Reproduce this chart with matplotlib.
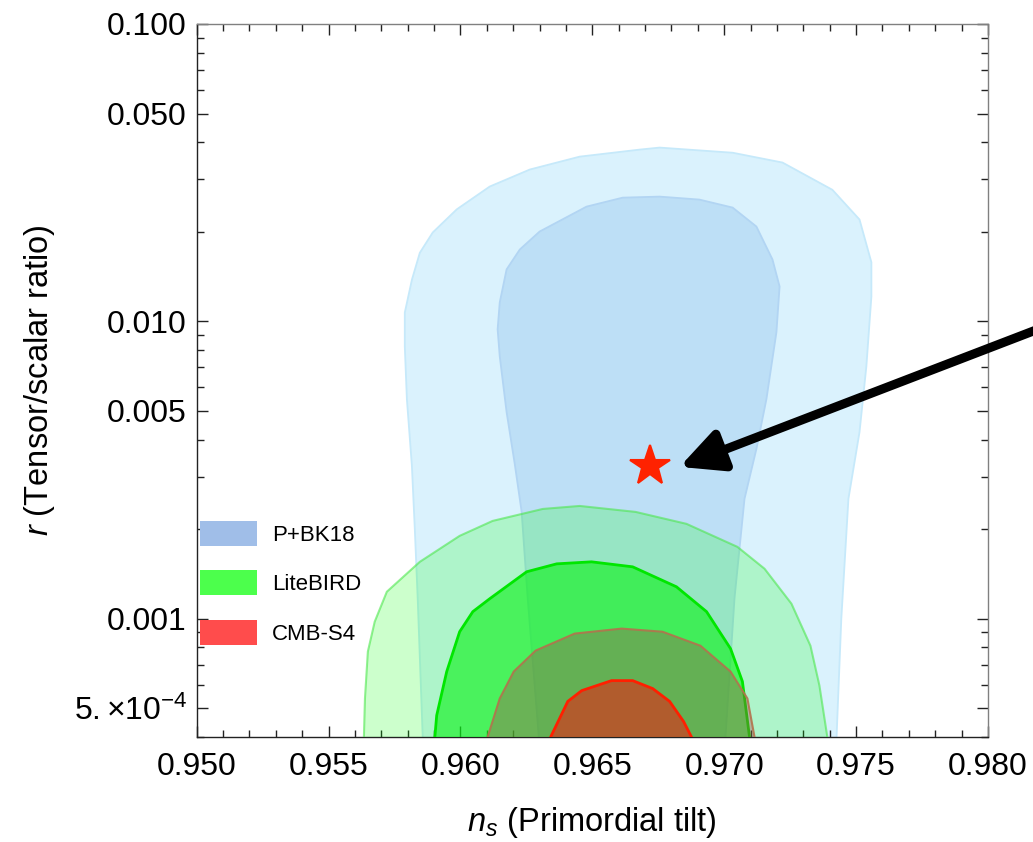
import matplotlib
matplotlib.use("Agg")
import matplotlib.pyplot as plt
import numpy as np
from matplotlib.patches import Patch
from matplotlib.ticker import FixedLocator, NullFormatter

plt.rcParams["font.family"] = ["Liberation Sans", "DejaVu Sans"]
plt.rcParams["mathtext.fontset"] = "custom"
plt.rcParams["mathtext.rm"] = "Liberation Sans"
plt.rcParams["mathtext.it"] = "Liberation Sans:italic"

# contour outlines: (n_s, r)
PBK18_95_NS = [0.95857, 0.95857, 0.95838, 0.95827, 0.95816, 0.95797, 0.95789, 0.95789, 0.95816,
               0.95846, 0.95895, 0.95986, 0.96111, 0.96263, 0.96452, 0.96679, 0.96755, 0.97032,
               0.97221, 0.97410, 0.97513, 0.97558, 0.97558, 0.97539, 0.97513, 0.97471, 0.97444,
               0.97426, 0.97426]
PBK18_95_R = [3.0e-4, 4.0e-4, 1.17e-3, 2.0e-3, 3.26e-3, 5.47e-3, 8.24e-3, 1.07e-2, 1.38e-2,
              1.70e-2, 1.99e-2, 2.38e-2, 2.84e-2, 3.24e-2, 3.58e-2, 3.78e-2, 3.84e-2, 3.69e-2,
              3.42e-2, 2.77e-2, 2.20e-2, 1.58e-2, 1.21e-2, 7.06e-3, 4.24e-3, 2.53e-3, 1.0e-3,
              4.0e-4, 3.0e-4]

PBK18_68_NS = [0.96297, 0.96297, 0.96255, 0.96232, 0.96206, 0.96175, 0.96149, 0.96141, 0.96149,
               0.96175, 0.96225, 0.96300, 0.96478, 0.96615, 0.96755, 0.96906, 0.97032, 0.97122,
               0.97183, 0.97210, 0.97198, 0.97160, 0.97122, 0.97077, 0.97039, 0.97005, 0.97005]
PBK18_68_R = [3.0e-4, 4.0e-4, 1.17e-3, 2.29e-3, 3.31e-3, 4.95e-3, 7.63e-3, 9.40e-3, 1.158e-2,
              1.495e-2, 1.744e-2, 2.004e-2, 2.431e-2, 2.606e-2, 2.627e-2, 2.567e-2, 2.413e-2,
              2.084e-2, 1.615e-2, 1.310e-2, 9.19e-3, 5.47e-3, 3.72e-3, 2.53e-3, 1.17e-3, 4.0e-4,
              3.0e-4]

LB_95_NS = [0.95634, 0.95634, 0.95638, 0.95649, 0.95675, 0.95721, 0.95846, 0.95997, 0.96122,
            0.96312, 0.96452, 0.96664, 0.96857, 0.97050, 0.97153, 0.97255, 0.97327, 0.97361,
            0.97391, 0.97391]
LB_95_R = [3.0e-4, 4.0e-4, 5.39e-4, 7.75e-4, 9.77e-4, 1.232e-3, 1.553e-3, 1.899e-3, 2.132e-3,
           2.339e-3, 2.394e-3, 2.286e-3, 2.084e-3, 1.744e-3, 1.472e-3, 1.123e-3, 8.11e-4,
           5.96e-4, 4.0e-4, 3.0e-4]

LB_68_NS = [0.95903, 0.95903, 0.95910, 0.95948, 0.95997, 0.96047, 0.96111, 0.96251, 0.96365,
            0.96497, 0.96653, 0.96819, 0.96933, 0.97024, 0.97069, 0.97096, 0.97096]
LB_68_R = [3.0e-4, 4.0e-4, 4.73e-4, 6.64e-4, 9.04e-4, 1.056e-3, 1.167e-3, 1.438e-3, 1.529e-3,
           1.553e-3, 1.494e-3, 1.280e-3, 1.056e-3, 7.93e-4, 6.15e-4, 4.0e-4, 3.0e-4]

S4_95_NS = [0.96103, 0.96103, 0.96149, 0.96202, 0.96285, 0.96433, 0.96611, 0.96766, 0.96910,
            0.97024, 0.97088, 0.97115, 0.97115]
S4_95_R = [3.0e-4, 4.0e-4, 5.39e-4, 6.64e-4, 7.81e-4, 8.91e-4, 9.26e-4, 9.04e-4, 8.11e-4,
           6.64e-4, 5.39e-4, 4.0e-4, 3.0e-4]

S4_68_NS = [0.96342, 0.96342, 0.96407, 0.96460, 0.96573, 0.96653, 0.96729, 0.96793, 0.96846,
            0.96876, 0.96876]
S4_68_R = [3.0e-4, 4.0e-4, 5.27e-4, 5.73e-4, 6.19e-4, 6.19e-4, 5.82e-4, 5.27e-4, 4.51e-4,
           4.0e-4, 3.0e-4]

STAR_NS, STAR_R = 0.96720, 3.26e-3
ARROW_TIP = (0.96831, 3.24e-3)
ARROW_TAIL = (0.98547, 1.245e-2)

LEGEND_LABELS = ["P+BK18", "LiteBIRD", "CMB-S4"]
LEGEND_COLORS = ["#A0BEE8", "#4CFF4C", "#FF4C4C"]

X_TICKS = [0.950, 0.955, 0.960, 0.965, 0.970, 0.975, 0.980]
X_TICK_LABELS = ["0.950", "0.955", "0.960", "0.965", "0.970", "0.975", "0.980"]
Y_TICKS = [5e-4, 1e-3, 5e-3, 1e-2, 5e-2, 1e-1]
Y_TICK_LABELS = [r"$5.{\times}10^{-4}$", "0.001", "0.005", "0.010", "0.050", "0.100"]

fig = plt.figure(figsize=(10.33, 8.42), dpi=100)
ax = fig.add_axes([0.1904, 0.1247, 0.7660, 0.8468])
ax.set_yscale("log")

# P+BK18
ax.fill(PBK18_95_NS, PBK18_95_R, facecolor="#DAF2FD", edgecolor="#C6E9FA", lw=1.3, zorder=1)
ax.fill(PBK18_68_NS, PBK18_68_R, facecolor="#BDDFF6", edgecolor="#B2D5F3", lw=1.3, zorder=2)
# LiteBIRD
ax.fill(LB_95_NS, LB_95_R, facecolor=(0.0, 1.0, 0.0, 0.2), edgecolor=(0.3, 0.9, 0.3, 0.6),
        lw=1.5, zorder=3)
ax.fill(LB_68_NS, LB_68_R, facecolor=(0.05, 0.95, 0.1, 0.62), edgecolor=(0.0, 0.9, 0.0, 1.0),
        lw=2.0, zorder=4)
# CMB-S4
ax.fill(S4_95_NS, S4_95_R, facecolor=(0.69, 0.19, 0.29, 0.32), edgecolor=(0.7, 0.45, 0.3, 0.9),
        lw=1.5, zorder=5)
ax.fill(S4_68_NS, S4_68_R, facecolor=(1.0, 0.04, 0.03, 0.5), edgecolor=(1.0, 0.12, 0.0, 1.0),
        lw=2.0, zorder=6)

ax.plot([STAR_NS], [STAR_R], marker="*", markersize=30, color="#FF2200",
        markeredgewidth=1.5, markeredgecolor="#FF2200", zorder=8)

ax.annotate("", xy=ARROW_TIP, xytext=ARROW_TAIL, annotation_clip=False,
            arrowprops=dict(arrowstyle="-|>,head_length=0.85,head_width=0.42", lw=6.5,
                            color="black", mutation_scale=30, shrinkA=0, shrinkB=0,
                            clip_on=False), zorder=9)

ax.set_xlim(0.950, 0.980)
ax.set_ylim(4e-4, 0.1)

ax.xaxis.set_major_locator(FixedLocator(X_TICKS))
ax.set_xticklabels(X_TICK_LABELS)
ax.xaxis.set_minor_locator(FixedLocator(np.arange(0.950, 0.9801, 0.001)))
ax.yaxis.set_major_locator(FixedLocator(Y_TICKS))
ax.set_yticklabels(Y_TICK_LABELS)
minor_y = [m * 10.0 ** e for e in (-4, -3, -2) for m in (2, 3, 4, 6, 7, 8, 9)]
ax.yaxis.set_minor_locator(FixedLocator(minor_y))
ax.yaxis.set_minor_formatter(NullFormatter())

ax.tick_params(which="both", direction="in", top=True, right=True, colors="#222222",
               labelcolor="black", labelsize=23, width=1.0)
ax.tick_params(which="major", length=8)
ax.tick_params(which="minor", length=5)
ax.tick_params(axis="x", which="major", pad=11)
ax.tick_params(axis="y", which="major", pad=7)

for side in ("left", "bottom"):
    ax.spines[side].set_color("#222222")
for side in ("top", "right"):
    ax.spines[side].set_color("#808080")
for s in ax.spines.values():
    s.set_linewidth(1.0)

ax.set_xlabel(r"$n_s$ (Primordial tilt)", fontsize=23.5, labelpad=16)
ax.set_ylabel(r"$r$ (Tensor/scalar ratio)", fontsize=23.5, labelpad=12)

handles = [Patch(facecolor=c, edgecolor="none") for c in LEGEND_COLORS]
ax.legend(handles, LEGEND_LABELS, loc="upper left", bbox_to_anchor=(0.0042, 0.303),
          frameon=False, fontsize=16, borderpad=0, borderaxespad=0, handlelength=2.57,
          handleheight=1.35, labelspacing=1.1, handletextpad=0.68)

fig.savefig("out.png", dpi=100)
